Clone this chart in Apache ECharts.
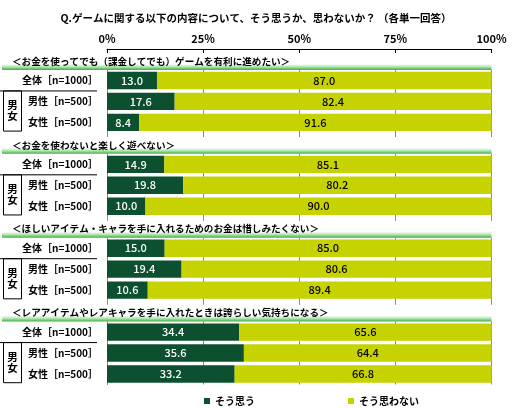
<!DOCTYPE html>
<html>
<head>
<meta charset="utf-8">
<script src="https://cdn.jsdelivr.net/npm/echarts@6/dist/echarts.min.js"></script>
<style>
  html, body { margin: 0; padding: 0; background: #fff; }
  #chart { width: 512px; height: 408px; }
</style>
</head>
<body>
<div id="chart"></div>
<script>
// Chart data
const titleText = 'Q.ゲームに関する以下の内容について、そう思うか、思わないか？ （各単一回答）';
const questions = [
  '＜お金を使ってでも（課金してでも）ゲームを有利に進めたい＞',
  '＜お金を使わないと楽しく遊べない＞',
  '＜ほしいアイテム・キャラを手に入れるためのお金は惜しみたくない＞',
  '＜レアアイテムやレアキャラを手に入れたときは誇らしい気持ちになる＞'
];
const segments = ['全体［n=1000］', '男性［n=500］', '女性［n=500］'];
const seriesNames = ['そう思う', 'そう思わない'];
const agree = [
  [13.0, 17.6, 8.4],
  [14.9, 19.8, 10.0],
  [15.0, 19.4, 10.6],
  [34.4, 35.6, 33.2]
];
const disagree = [
  [87.0, 82.4, 91.6],
  [85.1, 80.2, 90.0],
  [85.0, 80.6, 89.4],
  [65.6, 64.4, 66.8]
];
const xTicks = [0, 25, 50, 75, 100];

const FONT = '"Noto Sans CJK JP", "Noto Sans", sans-serif';
const DARK = '#0d5030';
const LIME = '#c6d300';

// one header slot + three bar rows per question
const yCats = [];
const agreeData = [];
const disagreeData = [];
questions.forEach((q, g) => {
  yCats.push('');
  agreeData.push('-');
  disagreeData.push('-');
  segments.forEach((s, i) => {
    yCats.push(s);
    agreeData.push(agree[g][i]);
    disagreeData.push(disagree[g][i]);
  });
});

const chart = echarts.init(document.getElementById('chart'));

const option = {
  animation: false,
  backgroundColor: '#fff',
  title: {
    text: titleText,
    left: 'center',
    top: 8,
    textStyle: { fontFamily: FONT, fontSize: 10.5, fontWeight: 'bold', color: '#000' }
  },
  legend: {
    data: seriesNames,
    left: 199,
    top: 391,
    icon: 'rect',
    itemWidth: 6,
    itemHeight: 6,
    itemGap: 93,
    textStyle: { fontFamily: FONT, fontSize: 10, fontWeight: 'bold', color: '#000' }
  },
  grid: {
    top: 49,
    left: 107,
    right: 20.5,
    bottom: 23.5
  },
  xAxis: {
    type: 'value',
    position: 'top',
    min: xTicks[0],
    max: xTicks[xTicks.length - 1],
    interval: 25,
    axisLine: { show: true, lineStyle: { color: '#000', width: 1 } },
    axisTick: { show: true, inside: true, length: 4, lineStyle: { color: '#000' } },
    axisLabel: {
      formatter: '{value}%',
      fontFamily: FONT,
      fontSize: 11,
      fontWeight: 'bold',
      color: '#000',
      margin: 5
    },
    splitLine: { show: true, lineStyle: { color: '#8a8a8a', width: 1 } }
  },
  yAxis: {
    type: 'category',
    inverse: true,
    data: yCats,
    axisLine: { show: true, lineStyle: { color: '#8a8a8a' } },
    axisTick: { show: false },
    axisLabel: {
      fontFamily: FONT,
      fontSize: 10,
      fontWeight: 'bold',
      color: '#000',
      margin: 9
    }
  },
  series: [
    {
      name: seriesNames[0],
      type: 'bar',
      stack: 'total',
      data: agreeData,
      barCategoryGap: '17%',
      itemStyle: { color: DARK },
      label: {
        show: true,
        position: 'inside',
        color: '#fff',
        fontFamily: FONT,
        fontSize: 11,
        fontWeight: 500,
        formatter: p => p.value.toFixed(1)
      }
    },
    {
      name: seriesNames[1],
      type: 'bar',
      stack: 'total',
      data: disagreeData,
      barCategoryGap: '17%',
      itemStyle: { color: LIME },
      label: {
        show: true,
        position: 'inside',
        color: '#000',
        fontFamily: FONT,
        fontSize: 11,
        fontWeight: 500,
        formatter: p => p.value.toFixed(1)
      }
    }
  ]
};

chart.setOption(option);

// Header bands, question text and 男女 boxes placed from the axis scale
const py = i => chart.convertToPixel({ yAxisIndex: 0 }, i);
const px = v => chart.convertToPixel({ xAxisIndex: 0 }, v);
const slot = py(1) - py(0);
const right = px(100);
const halfBar = slot * 0.83 / 2;
const elements = [];

questions.forEach((q, g) => {
  const h = g * 4;
  const c = py(h);
  const top = c - slot / 2;
  elements.push({
    type: 'rect', z: 10,
    shape: { x: 0, y: top + 4, width: right + 2, height: slot - 4 },
    style: { fill: '#fff' }
  });
  elements.push({
    type: 'rect', z: 11,
    shape: { x: 2, y: c + 4.5, width: right - 2, height: slot / 2 - 4.5 },
    style: {
      fill: new echarts.graphic.LinearGradient(0, 0, 0, 1, [
        { offset: 0, color: '#ffffff' },
        { offset: 0.5, color: '#ace3ac' },
        { offset: 1, color: '#3daf3d' }
      ])
    }
  });
  elements.push({
    type: 'text', z: 12,
    x: 12, y: c + 1.5,
    style: {
      text: q,
      fill: '#000',
      font: 'bold 9.6px ' + FONT,
      verticalAlign: 'middle',
      textVerticalAlign: 'middle'
    }
  });
  // line below 全体 row and box around 男女 rows
  const b = (py(h + 1) + py(h + 2)) / 2;
  const bottom = py(h + 3) + halfBar;
  elements.push({
    type: 'line', z: 12,
    shape: { x1: 0, y1: b, x2: 97, y2: b },
    style: { stroke: '#000', lineWidth: 1 }
  });
  elements.push({
    type: 'rect', z: 12,
    shape: { x: 3.5, y: b, width: 18, height: bottom - b },
    style: { fill: 'none', stroke: '#000', lineWidth: 1 }
  });
  const mid = (b + bottom) / 2;
  ['男', '女'].forEach((ch, k) => {
    elements.push({
      type: 'text', z: 12,
      x: 12.5, y: mid + (k === 0 ? -5.5 : 5.5),
      style: {
        text: ch,
        fill: '#000',
        font: 'bold 10.5px ' + FONT,
        align: 'center',
        textAlign: 'center',
        verticalAlign: 'middle',
        textVerticalAlign: 'middle'
      }
    });
  });
});

chart.setOption({ graphic: { elements: elements } });

window.addEventListener('resize', () => chart.resize());
</script>
</body>
</html>
